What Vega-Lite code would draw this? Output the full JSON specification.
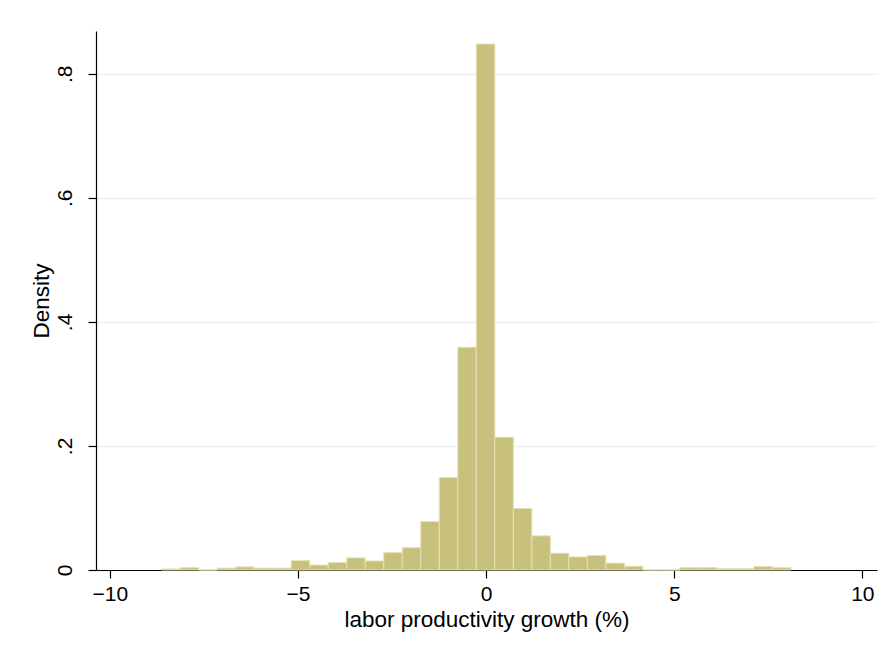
{
  "$schema": "https://vega.github.io/schema/vega-lite/v6.json",
  "width": 781,
  "height": 539,
  "autosize": {"type": "none"},
  "padding": {"left": 96, "top": 31, "right": 9, "bottom": 81},
  "background": "white",
  "config": {
    "view": {"stroke": null},
    "font": "Liberation Sans",
    "axis": {
      "labelFont": "Liberation Sans",
      "titleFont": "Liberation Sans",
      "labelColor": "black",
      "titleColor": "black",
      "titleFontWeight": "normal",
      "domainColor": "black",
      "tickColor": "black",
      "domainWidth": 1.2,
      "tickWidth": 1.2,
      "tickSize": 8,
      "labelFontSize": 21,
      "titleFontSize": 22.5
    }
  },
  "data": {
    "values": [
      {"lo": -8.625, "hi": -8.133, "density": 0.0016},
      {"lo": -8.133, "hi": -7.641, "density": 0.0037},
      {"lo": -7.641, "hi": -7.149, "density": 0},
      {"lo": -7.149, "hi": -6.657, "density": 0.003},
      {"lo": -6.657, "hi": -6.165, "density": 0.005},
      {"lo": -6.165, "hi": -5.673, "density": 0.003},
      {"lo": -5.673, "hi": -5.181, "density": 0.003},
      {"lo": -5.181, "hi": -4.689, "density": 0.015},
      {"lo": -4.689, "hi": -4.197, "density": 0.008},
      {"lo": -4.197, "hi": -3.705, "density": 0.012},
      {"lo": -3.705, "hi": -3.213, "density": 0.0195},
      {"lo": -3.213, "hi": -2.721, "density": 0.0145},
      {"lo": -2.721, "hi": -2.229, "density": 0.028},
      {"lo": -2.229, "hi": -1.737, "density": 0.036},
      {"lo": -1.737, "hi": -1.245, "density": 0.078},
      {"lo": -1.245, "hi": -0.753, "density": 0.149},
      {"lo": -0.753, "hi": -0.261, "density": 0.359},
      {"lo": -0.261, "hi": 0.231, "density": 0.848},
      {"lo": 0.231, "hi": 0.723, "density": 0.214},
      {"lo": 0.723, "hi": 1.215, "density": 0.099},
      {"lo": 1.215, "hi": 1.707, "density": 0.055},
      {"lo": 1.707, "hi": 2.199, "density": 0.027},
      {"lo": 2.199, "hi": 2.691, "density": 0.021},
      {"lo": 2.691, "hi": 3.183, "density": 0.0235},
      {"lo": 3.183, "hi": 3.675, "density": 0.011},
      {"lo": 3.675, "hi": 4.167, "density": 0.006},
      {"lo": 4.167, "hi": 4.659, "density": 0},
      {"lo": 4.659, "hi": 5.151, "density": 0},
      {"lo": 5.151, "hi": 5.643, "density": 0.0037},
      {"lo": 5.643, "hi": 6.135, "density": 0.0037},
      {"lo": 6.135, "hi": 6.627, "density": 0.002},
      {"lo": 6.627, "hi": 7.119, "density": 0.002},
      {"lo": 7.119, "hi": 7.611, "density": 0.0055},
      {"lo": 7.611, "hi": 8.103, "density": 0.0037}
    ]
  },
  "mark": {"type": "rect", "fill": "#C8C17E", "stroke": "#E4E0B2", "strokeWidth": 1},
  "encoding": {
    "x": {
      "field": "lo",
      "type": "quantitative",
      "scale": {"domain": [-10.37, 10.39], "nice": false, "zero": false},
      "axis": {
        "title": "labor productivity growth (%)",
        "values": [-10, -5, 0, 5, 10],
        "grid": false,
        "labelPadding": 5,
        "titlePadding": 4,
        "labelFlush": false
      }
    },
    "x2": {"field": "hi"},
    "y": {
      "field": "density",
      "type": "quantitative",
      "scale": {"domain": [0, 0.869], "nice": false},
      "axis": {
        "title": "Density",
        "values": [0, 0.2, 0.4, 0.6, 0.8],
        "labelExpr": "datum.value == 0 ? '0' : replace(format(datum.value, '.1f'), '0.', '.')",
        "labelAngle": -90,
        "labelAlign": "center",
        "labelBaseline": "bottom",
        "labelPadding": 13,
        "titlePadding": 1,
        "grid": true,
        "gridColor": "#EAF2F3",
        "gridWidth": 1.5,
        "labelFlush": false
      }
    },
    "y2": {"datum": 0}
  }
}
